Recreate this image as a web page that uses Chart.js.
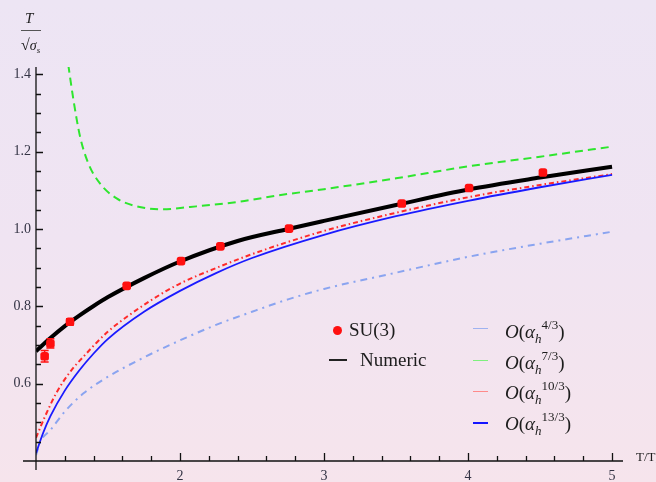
<!DOCTYPE html>
<html>
<head>
<meta charset="utf-8">
<script src="https://cdn.jsdelivr.net/npm/chart.js@4.4.1/dist/chart.umd.min.js"></script>
<style>
html,body{margin:0;padding:0}
body{width:656px;height:482px;overflow:hidden;position:relative;
  background:linear-gradient(to bottom,#ede5f4 0%,#f0e4f2 50%,#f6e4ec 100%);
  font-family:"Liberation Serif","Times New Roman",serif;color:#1c1c1c}
#c{position:absolute;left:0;top:0}
.t{position:absolute;white-space:nowrap;font-size:19px;line-height:20px}
.sw{position:absolute;height:0}
.sp{position:relative;top:-9px;font-size:13px}
.sb{position:relative;top:5px;font-size:13px;font-style:italic}
</style>
</head>
<body>
<canvas id="c" width="656" height="482"></canvas>

<!-- y axis title -->
<div class="t" style="left:25px;top:8px;font-size:15px;font-style:italic">T</div>
<div class="sw" style="left:21px;top:30px;width:20px;border-top:1px solid #555"></div>
<div class="t" style="left:21px;top:35px;font-size:16px">&radic;<i style="font-size:14px">&sigma;</i><span style="font-size:9px;font-style:italic;position:relative;top:3px">s</span></div>
<!-- x axis title -->
<div class="t" style="left:636px;top:447px;font-size:13px">T/T<sub>c</sub></div>

<!-- legend -->
<div style="position:absolute;left:333px;top:326px;width:9px;height:9px;border-radius:50%;background:#ff1010"></div>
<div class="t" style="left:349px;top:320px">SU(3)</div>
<div class="sw" style="left:329px;top:359px;width:18px;border-top:2px solid #222"></div>
<div class="t" style="left:360px;top:350px">Numeric</div>

<div class="sw" style="left:473px;top:328px;width:15px;border-top:1px solid #9fb2f0"></div>
<div class="t" style="left:505px;top:322px"><i>O</i>(<i>&alpha;</i><span class="sb">h</span><span class="sp">4/3</span>)</div>
<div class="sw" style="left:473px;top:360px;width:15px;border-top:1px solid #7ef07e"></div>
<div class="t" style="left:505px;top:353px"><i>O</i>(<i>&alpha;</i><span class="sb">h</span><span class="sp">7/3</span>)</div>
<div class="sw" style="left:473px;top:391px;width:15px;border-top:1px solid #ff8a8a"></div>
<div class="t" style="left:505px;top:383px"><i>O</i>(<i>&alpha;</i><span class="sb">h</span><span class="sp">10/3</span>)</div>
<div class="sw" style="left:473px;top:422px;width:15px;border-top:2px solid #1515ff"></div>
<div class="t" style="left:505px;top:414px"><i>O</i>(<i>&alpha;</i><span class="sb">h</span><span class="sp">13/3</span>)</div>

<script>
// tick labels
var xTickLabels = ['2', '3', '4', '5']
var yTickLabels = ['0.6', '0.8', '1.0', '1.2', '1.4']

// SU(3) lattice points
var suX = [1.06, 1.10, 1.236, 1.63, 2.007, 2.28, 2.757, 3.54, 4.007, 4.52]
var suY = [0.671, 0.704, 0.760, 0.853, 0.917, 0.955, 1.001, 1.066, 1.106, 1.146]
var suErr = [0.015, 0.012, 0.008, 0.004, 0.004, 0.004, 0.004, 0.004, 0.004, 0.004]

// Numeric curve
var numX = [1.0, 1.1, 1.2, 1.3, 1.4, 1.5, 1.75, 2.0, 2.4, 2.75, 3.0, 3.5, 4.0, 4.5, 5.0]
var numY = [0.684, 0.718, 0.749, 0.776, 0.801, 0.824, 0.873, 0.916, 0.969, 1.000, 1.021, 1.062, 1.102, 1.133, 1.161]

// O(alpha^4/3)
var o4X = [1.0, 1.03, 1.1, 1.2, 1.33, 1.5, 1.75, 2.0, 2.25, 2.5, 2.75, 3.0, 3.5, 4.0, 4.5, 5.0]
var o4Y = [0.415, 0.45, 0.48, 0.528, 0.575, 0.618, 0.668, 0.712, 0.752, 0.786, 0.818, 0.845, 0.887, 0.928, 0.962, 0.993]

// O(alpha^7/3)
var o7X = [1.224, 1.26, 1.306, 1.363, 1.444, 1.56, 1.72, 1.88, 2.07, 2.4, 2.7, 3.0, 3.5, 4.0, 4.5, 5.0]
var o7Y = [1.425, 1.334, 1.239, 1.170, 1.118, 1.079, 1.057, 1.051, 1.057, 1.070, 1.088, 1.103, 1.131, 1.162, 1.187, 1.213]

// O(alpha^10/3)
var o10X = [1.0, 1.06, 1.14, 1.24, 1.33, 1.41, 1.5, 1.65, 1.8, 2.0, 2.25, 2.5, 3.0, 3.5, 4.0, 4.5, 5.0]
var o10Y = [0.460, 0.513, 0.575, 0.632, 0.670, 0.702, 0.735, 0.778, 0.816, 0.859, 0.899, 0.935, 0.995, 1.042, 1.082, 1.114, 1.142]

// O(alpha^13/3)
var o13X = [1.0, 1.05, 1.1, 1.2, 1.3, 1.4, 1.5, 1.75, 2.0, 2.25, 2.5, 3.0, 3.5, 4.0, 4.5, 5.0]
var o13Y = [0.420, 0.473, 0.516, 0.582, 0.634, 0.678, 0.716, 0.786, 0.840, 0.886, 0.925, 0.985, 1.033, 1.073, 1.108, 1.140]

function pts(xs, ys) {
    return xs.map(function (x, i) { return {x: x, y: ys[i]} })
}

function curve(label, xs, ys, color, width, dash) {
    return {
        label: label,
        data: pts(xs, ys),
        borderColor: color,
        borderWidth: width,
        borderDash: dash,
        pointRadius: 0,
        fill: false,
        cubicInterpolationMode: 'monotone'
    }
}

// axes drawn Mathematica style: ticks inward, lines crossing at origin
var axesPlugin = {
    id: 'axes',
    afterDraw: function (chart) {
        var ctx = chart.ctx, xs = chart.scales.x, ys = chart.scales.y
        var a = chart.chartArea
        ctx.save()
        ctx.strokeStyle = '#111'
        ctx.lineWidth = 1.3
        ctx.beginPath()
        ctx.moveTo(23, a.bottom); ctx.lineTo(a.right, a.bottom)
        ctx.moveTo(a.left, a.top); ctx.lineTo(a.left, a.bottom + 9)
        xs.ticks.forEach(function (t) {
            var v = t.value
            if (Math.abs(v / 0.2 - Math.round(v / 0.2)) > 1e-6 || v < 1.1) return
            var p = Math.round(xs.getPixelForValue(v)) + 0.5
            var major = Math.abs(v - Math.round(v)) < 1e-6
            ctx.moveTo(p, a.bottom); ctx.lineTo(p, a.bottom - (major ? 8 : 5))
        })
        ys.ticks.forEach(function (t) {
            var v = t.value
            if (Math.abs(v / 0.05 - Math.round(v / 0.05)) > 1e-6 || v < 0.44) return
            var p = Math.round(ys.getPixelForValue(v)) + 0.5
            var major = Math.abs(v / 0.2 - Math.round(v / 0.2)) < 1e-6
            ctx.moveTo(a.left, p); ctx.lineTo(a.left + (major ? 7 : 5), p)
        })
        ctx.stroke()
        ctx.restore()
    }
}

var errorPlugin = {
    id: 'errbars',
    afterDatasetsDraw: function (chart) {
        var ctx = chart.ctx, xs = chart.scales.x, ys = chart.scales.y
        ctx.save()
        ctx.strokeStyle = '#ff1010'
        ctx.lineWidth = 1.5
        ctx.beginPath()
        suX.forEach(function (x, i) {
            var px = xs.getPixelForValue(x)
            var lo = ys.getPixelForValue(suY[i] - suErr[i])
            var hi = ys.getPixelForValue(suY[i] + suErr[i])
            ctx.moveTo(px, lo); ctx.lineTo(px, hi)
            ctx.moveTo(px - 4, lo); ctx.lineTo(px + 4, lo)
            ctx.moveTo(px - 4, hi); ctx.lineTo(px + 4, hi)
        })
        ctx.stroke()
        ctx.restore()
    }
}

Chart.defaults.font.family = "'Liberation Serif', 'Times New Roman', serif"

var ctx = document.getElementById('c').getContext('2d')
var chart = new Chart(ctx, {
    type: 'line',
    data: {
        datasets: [
            {
                label: 'SU(3)',
                data: pts(suX, suY),
                showLine: false,
                pointStyle: 'rectRounded',
                pointRadius: 5,
                pointBackgroundColor: '#ff1010',
                pointBorderWidth: 0
            },
            curve('Numeric', numX, numY, '#000000', 4, []),
            curve('O(ah^13/3)', o13X, o13Y, '#1a1aff', 1.8, []),
            curve('O(ah^10/3)', o10X, o10Y, '#ff2a2a', 2, [5, 3, 1.5, 3]),
            curve('O(ah^7/3)', o7X, o7Y, '#2ee62e', 2, [8, 5]),
            curve('O(ah^4/3)', o4X, o4Y, '#8aa4f0', 2, [7, 5, 2, 5])
        ]
    },
    options: {
        responsive: false,
        devicePixelRatio: 1,
        animation: false,
        layout: {padding: {top: 67, right: 33, left: 0, bottom: 0}},
        plugins: {legend: {display: false}, tooltip: {enabled: false}},
        scales: {
            x: {
                type: 'linear',
                min: 1.0,
                max: 5.076,
                grid: {display: false, drawTicks: false},
                border: {display: false},
                afterFit: function (s) { s.height = 21 },
                ticks: {
                    stepSize: 0.2,
                    includeBounds: false,
                    autoSkip: false,
                    maxRotation: 0,
                    padding: 7,
                    color: '#333344',
                    font: {size: 14},
                    callback: function (v) {
                        var r = Math.round(v)
                        if (Math.abs(v - r) > 1e-6) return ''
                        return xTickLabels.indexOf(String(r)) >= 0 ? String(r) : ''
                    }
                }
            },
            y: {
                min: 0.4,
                max: 1.419,
                grid: {display: false, drawTicks: false},
                border: {display: false},
                afterFit: function (s) { s.width = 36 },
                ticks: {
                    stepSize: 0.05,
                    includeBounds: false,
                    autoSkip: false,
                    padding: 5,
                    color: '#333344',
                    font: {size: 14},
                    callback: function (v) {
                        var s = v.toFixed(1)
                        if (Math.abs(v - parseFloat(s)) > 1e-6) return ''
                        return yTickLabels.indexOf(s) >= 0 ? s : ''
                    }
                }
            }
        }
    },
    plugins: [axesPlugin, errorPlugin]
})
</script>
</body>
</html>
